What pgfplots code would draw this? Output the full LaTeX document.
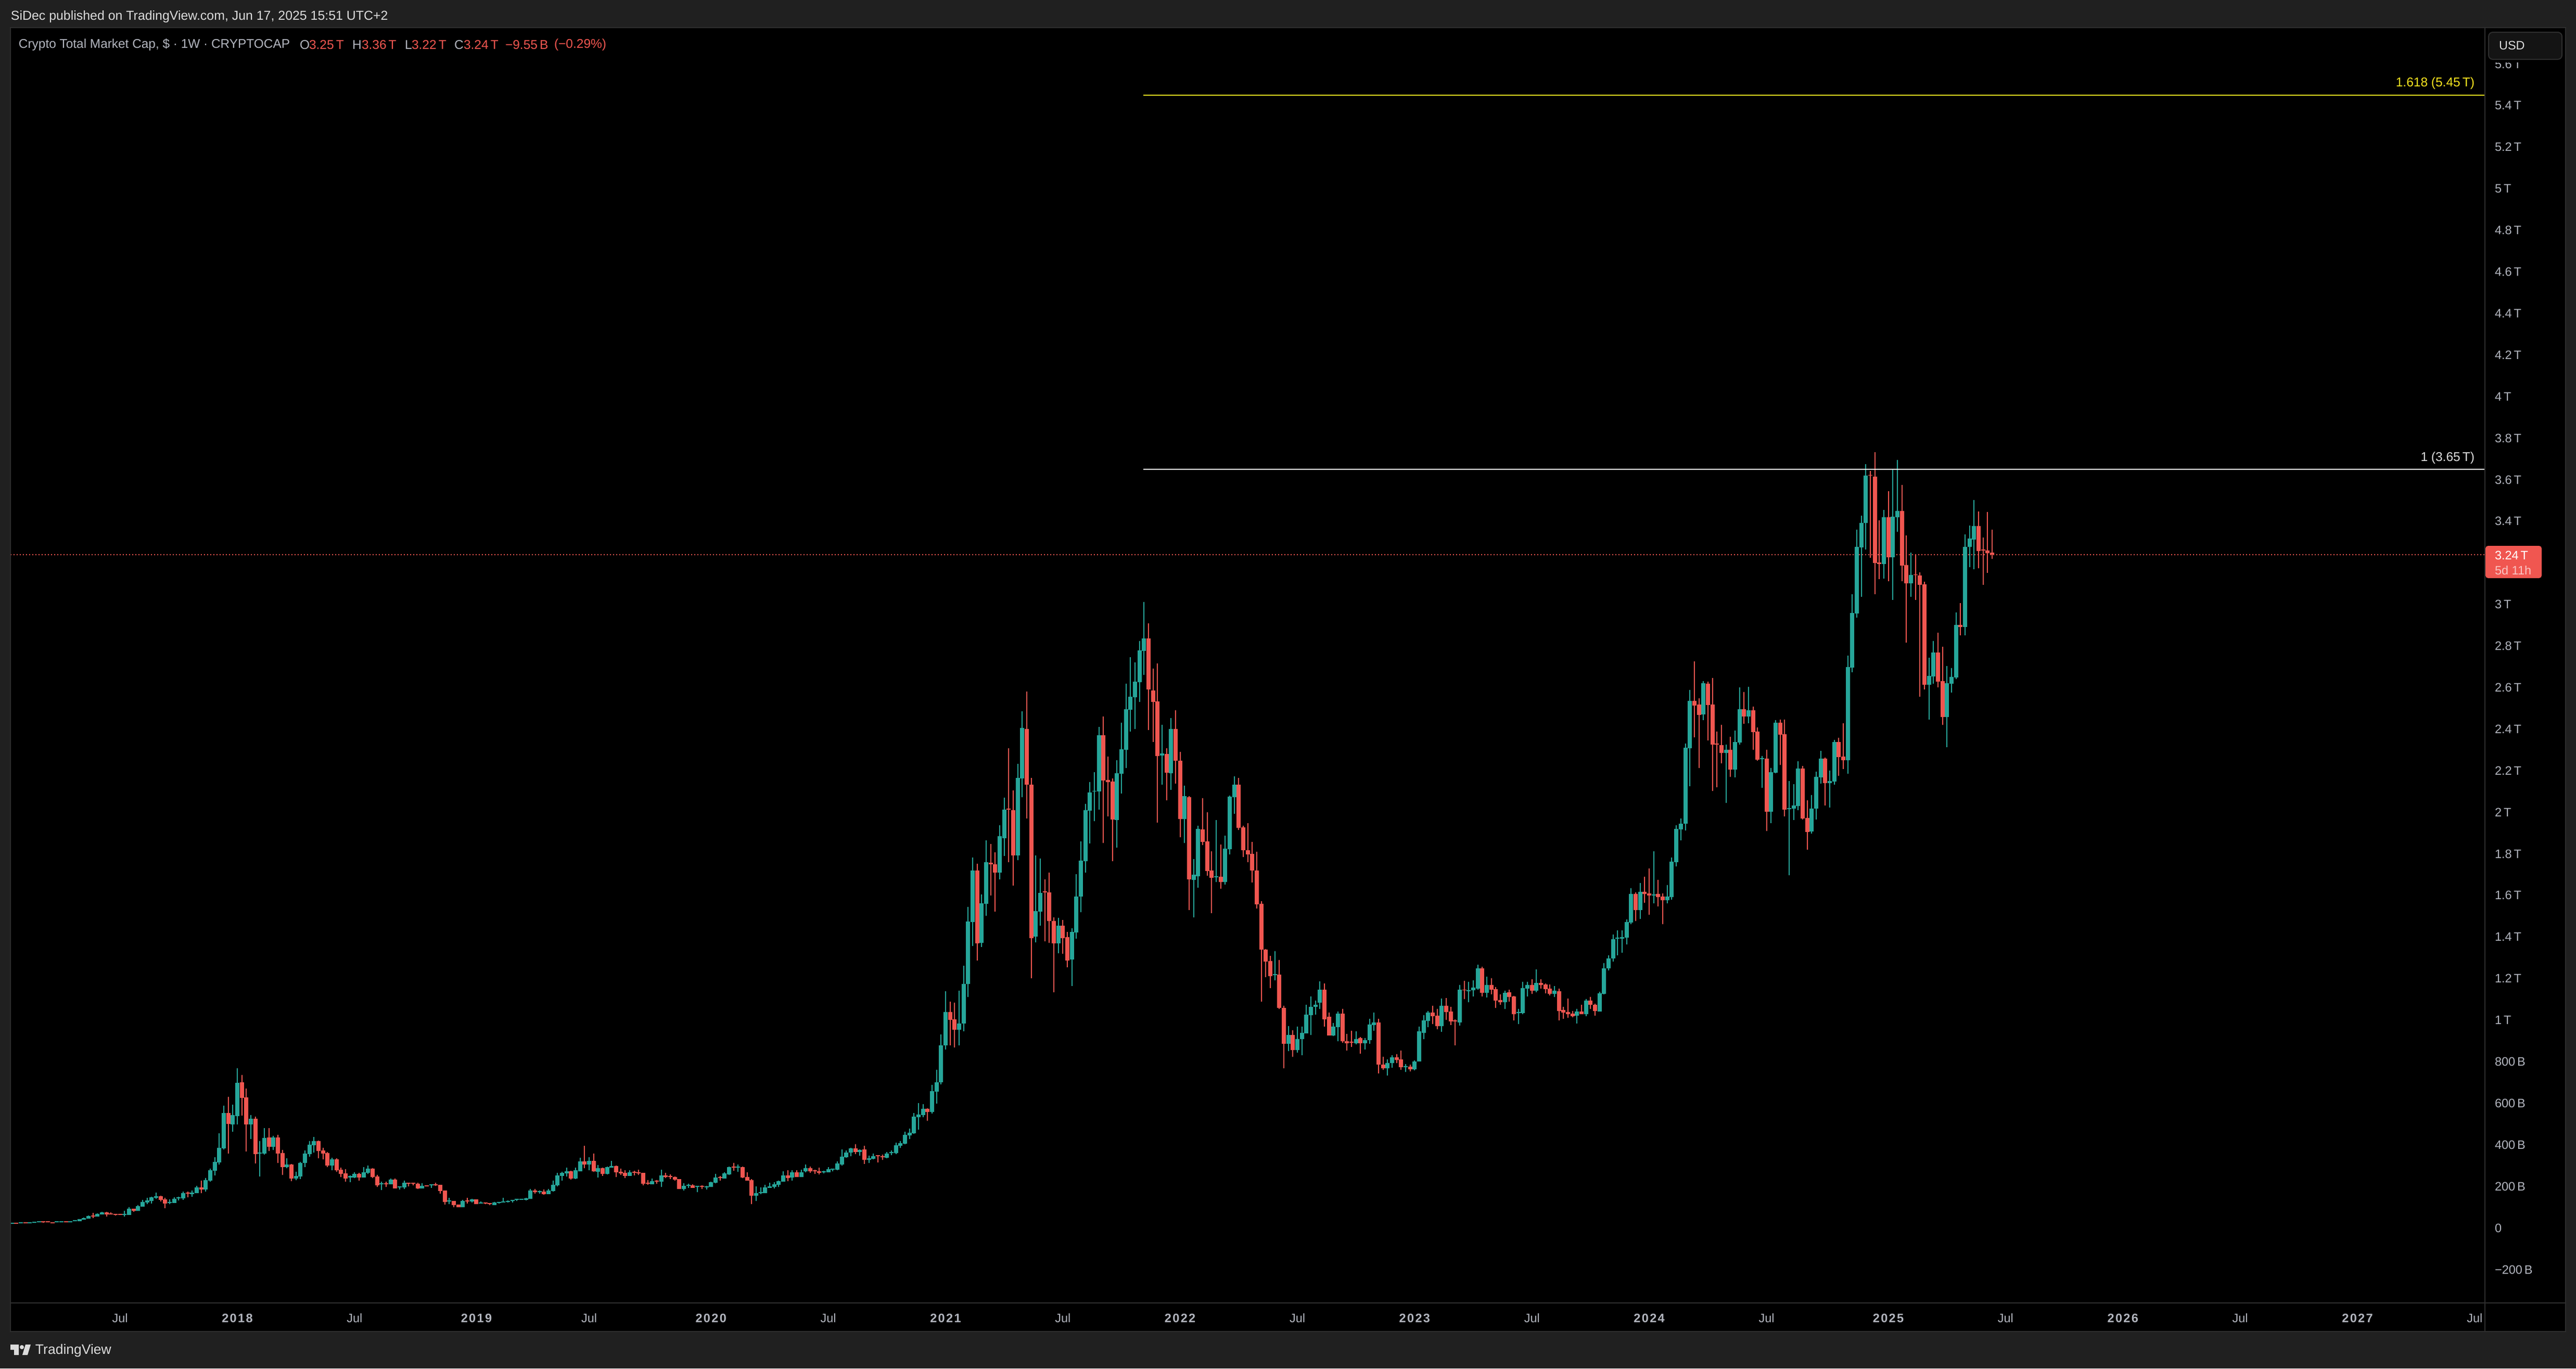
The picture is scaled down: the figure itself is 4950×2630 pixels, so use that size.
\documentclass[border=0pt]{standalone}
\usepackage{pgfplots}
\usepackage{pgfplotstable}
\usepackage{fontspec}
\setmainfont{Liberation Sans}
\newfontface\yrfont[LetterSpace=10]{Liberation Sans Bold}
\DeclareRobustCommand\yr[1]{{\yrfont #1}}
\pgfplotsset{compat=1.18}
\definecolor{bg}{HTML}{202020}
\definecolor{frame}{HTML}{2E2E2E}
\definecolor{up}{HTML}{26A69A}
\definecolor{down}{HTML}{F05650}
\definecolor{txt}{HTML}{B2B5BE}
\definecolor{lite}{HTML}{DBDBDB}
\definecolor{fib}{HTML}{F5E21F}
% week index, open, high, low, close (billions of USD)
\pgfplotstableread{
i o h l c
0 20 25 20 25
2 23 27 23 27
4 23 27 23 27
5 25 30 25 30
6 28 33 28 33
10 28 33 28 33
11 28 33 28 33
13 28 33 28 33
14 33 38 33 38
15 33 43 33 43
16 40 50 40 48
17 45 60 45 58
19 56 70 56 68
20 65 78 65 76
25 63 83 56 68
26 63 100 63 93
28 83 110 83 105
29 103 135 103 125
30 123 145 115 133
31 130 150 118 148
32 145 170 140 153
35 120 138 115 125
36 120 148 120 140
37 143 150 133 148
38 143 175 135 168
40 163 180 150 170
41 168 203 168 195
43 185 240 175 230
44 228 285 223 278
45 275 340 253 318
46 315 456 305 385
47 383 588 378 553
49 498 593 463 543
50 538 768 498 698
53 498 543 428 526
55 358 418 248 363
56 358 481 353 433
58 391 443 375 436
61 293 335 288 305
63 238 270 230 250
64 248 318 235 313
65 313 373 293 358
66 355 418 343 401
67 398 438 363 418
71 300 338 278 330
75 243 253 220 250
76 243 268 240 260
78 243 293 243 268
79 265 300 260 285
82 210 223 183 215
84 210 238 210 233
86 195 200 185 200
87 195 228 188 218
91 190 215 190 203
93 205 210 193 210
97 128 145 115 133
100 100 135 100 130
102 128 140 123 138
104 118 128 118 123
107 110 125 110 123
108 120 125 118 125
109 123 145 123 128
110 125 133 123 130
111 130 135 123 135
112 135 140 130 140
113 135 140 135 140
114 135 145 133 143
115 140 188 140 180
117 173 180 165 178
119 163 188 163 180
120 178 228 175 208
121 205 265 200 253
122 250 270 228 265
123 263 290 248 273
125 238 290 235 278
126 273 338 273 320
128 305 340 278 323
130 270 303 243 288
132 260 295 258 293
133 290 323 290 298
137 250 278 250 268
142 210 238 210 225
144 223 280 198 253
149 188 215 180 203
150 203 213 193 208
152 198 203 173 203
154 195 203 185 200
155 198 223 198 220
156 218 260 215 243
158 238 268 238 263
159 258 295 255 293
161 290 305 270 295
165 155 200 130 168
166 168 195 163 173
167 168 208 168 195
168 193 218 193 200
169 198 220 190 210
170 208 228 198 225
171 223 273 223 253
173 243 278 228 268
175 245 280 245 268
176 273 305 268 288
180 268 275 263 273
181 268 293 268 283
182 280 285 273 285
183 280 320 278 310
184 305 378 300 343
185 340 373 338 363
186 363 385 345 383
188 365 378 348 375
190 328 348 313 335
191 333 358 330 345
194 338 365 335 358
195 360 373 350 365
196 360 411 355 398
197 396 418 385 408
198 406 463 403 448
199 446 478 428 458
200 456 553 453 536
201 533 601 473 546
202 543 596 533 573
204 558 688 551 658
205 656 761 598 701
206 701 931 690 880
207 880 1139 860 1039
210 955 1141 880 983
211 983 1262 947 1174
212 1174 1545 1112 1474
213 1471 1782 1358 1721
215 1372 1606 1353 1562
216 1559 1865 1503 1760
219 1710 1937 1678 1885
220 1876 2070 1789 2014
223 1792 2233 1770 2165
224 2162 2486 2072 2405
227 1401 1792 1374 1524
228 1522 1777 1455 1612
232 1369 1491 1323 1454
235 1292 1441 1165 1424
236 1421 1703 1391 1596
237 1595 1859 1519 1767
238 1764 2040 1710 2010
239 2007 2145 1851 2095
240 2101 2193 1957 2103
241 2101 2412 2014 2372
245 1963 2250 1830 2188
246 2185 2430 2091 2303
247 2300 2618 2213 2496
248 2493 2746 2389 2556
249 2553 2721 2401 2628
250 2625 2823 2530 2779
251 2776 3012 2661 2836
255 2274 2422 2132 2283
257 2188 2453 2109 2401
260 1967 2128 1852 2078
262 1674 1774 1494 1700
263 1693 1935 1637 1920
267 1688 1963 1664 1693
269 1664 1887 1652 1825
270 1822 2081 1797 2075
271 2072 2172 1994 2132
280 1217 1332 1191 1221
283 886 972 851 929
285 856 969 844 910
286 909 969 831 939
287 936 1074 936 1027
288 1024 1114 930 1065
289 1064 1094 1027 1075
290 1084 1186 1055 1146
293 926 986 923 968
294 966 1041 900 1031
298 889 946 883 910
300 889 913 858 903
301 903 1006 886 978
302 976 1037 949 988
305 768 811 733 795
306 794 831 771 821
309 774 788 751 778
311 764 807 759 802
312 802 969 802 946
313 940 1024 910 998
314 996 1045 966 1037
317 971 1104 943 1068
321 988 1170 973 1146
323 1140 1183 1086 1144
324 1143 1192 1114 1156
325 1152 1267 1146 1249
327 1131 1209 1108 1169
331 1086 1142 1055 1131
334 1034 1055 981 1038
335 1034 1183 1028 1153
336 1152 1183 1114 1169
338 1142 1244 1133 1179
342 1126 1163 1111 1142
347 1021 1054 984 1041
349 1028 1101 1018 1094
352 1041 1136 1041 1129
353 1126 1274 1123 1250
354 1250 1311 1239 1298
355 1297 1413 1281 1389
356 1392 1432 1311 1397
357 1392 1432 1324 1399
358 1397 1485 1365 1472
359 1469 1634 1462 1607
361 1529 1660 1487 1618
364 1601 1812 1561 1606
367 1577 1649 1561 1595
368 1592 1782 1579 1762
369 1759 1937 1740 1920
370 1918 1970 1865 1945
371 1945 2330 1913 2310
372 2308 2588 2125 2536
375 2471 2630 2443 2621
380 2286 2325 2045 2301
382 2205 2393 2168 2338
383 2335 2601 2325 2496
385 2460 2603 2429 2491
388 2256 2270 2118 2260
390 2004 2213 1947 2193
391 2190 2443 2187 2432
394 2016 2151 1697 2020
395 2019 2135 1963 2033
396 2030 2246 2010 2210
399 1908 2083 1898 2017
400 2017 2195 1966 2170
401 2168 2296 2138 2257
403 2141 2200 2024 2151
404 2148 2348 2132 2338
407 2250 2753 2185 2698
408 2695 3049 2674 2958
409 2957 3359 2937 3277
410 3274 3427 3036 3391
411 3391 3675 3264 3619
415 3194 3454 3124 3420
417 3227 3652 3022 3422
418 3420 3694 3349 3450
421 3102 3249 3036 3141
425 2614 2743 2445 2655
426 2654 2823 2618 2769
429 2458 2704 2313 2621
430 2618 2694 2576 2651
431 2648 2961 2641 2901
433 2892 3338 2851 3277
434 3277 3379 3180 3316
435 3312 3501 3170 3376
}\upcandles
\pgfplotstableread{
i o h l c
1 25 25 20 20
3 27 27 23 23
7 33 33 25 28
8 33 33 28 28
9 28 28 23 23
12 33 33 28 28
18 60 73 48 56
21 75 78 56 65
22 70 75 65 65
23 68 68 60 63
24 68 68 63 63
27 93 93 78 83
33 153 155 128 135
34 138 145 95 118
39 170 175 148 165
42 195 228 168 185
48 553 631 358 501
51 701 736 541 626
52 628 671 368 498
54 526 536 310 355
57 436 481 370 391
59 436 448 313 358
60 360 375 255 293
62 305 308 225 238
68 418 421 335 370
69 373 385 330 358
70 360 365 293 300
72 330 335 270 278
73 280 290 245 260
74 263 283 223 238
77 260 265 228 243
80 285 288 240 245
81 248 255 198 205
83 215 223 198 210
85 233 238 190 190
88 218 218 200 213
89 218 218 205 213
90 213 218 188 190
92 205 205 200 200
94 210 218 203 205
95 208 208 165 178
96 180 180 113 125
98 130 130 100 110
99 112 112 100 100
101 133 145 118 128
103 138 138 115 115
105 123 123 115 118
106 120 120 110 115
116 180 188 165 173
118 175 185 160 163
124 273 275 233 238
127 320 396 288 305
129 323 358 270 273
131 288 290 250 260
134 298 300 245 268
135 270 285 255 263
136 265 278 240 250
138 270 275 253 265
139 268 280 255 263
140 265 265 205 213
141 218 230 208 213
143 228 230 213 223
145 253 265 240 245
146 250 258 235 245
147 245 248 228 233
148 235 235 188 188
151 205 210 193 193
153 203 205 188 198
157 245 250 228 240
160 295 313 275 290
162 293 295 240 243
163 245 268 228 228
164 230 235 115 155
172 253 278 225 240
174 268 278 245 245
177 288 295 265 273
178 278 280 260 273
179 273 290 258 265
187 383 403 355 365
189 378 396 308 328
192 350 350 315 345
193 345 353 328 340
203 573 576 516 558
208 1039 1089 880 1001
209 1003 1085 870 955
214 1721 1753 1286 1369
217 1757 1848 1599 1751
218 1751 1808 1523 1710
221 2017 2307 1760 2013
222 2010 2105 1648 1792
225 2401 2580 1971 2132
226 2132 2165 1203 1394
229 1619 1677 1379 1615
230 1615 1711 1372 1477
231 1478 1494 1135 1369
233 1454 1483 1319 1394
234 1399 1424 1254 1286
242 2372 2460 1852 2152
243 2155 2267 1980 2145
244 2148 2162 1766 1964
252 2836 2908 2395 2591
253 2586 2691 2338 2530
254 2533 2716 1950 2270
256 2280 2307 2058 2190
258 2402 2490 2138 2247
259 2247 2290 1879 1967
261 2072 2078 1529 1677
264 1917 2068 1842 1858
265 1859 2000 1694 1717
266 1720 1812 1514 1684
268 1690 1845 1632 1664
272 2132 2165 1915 1925
273 1927 1935 1785 1818
274 1818 1947 1760 1797
275 1799 1858 1662 1720
276 1721 1809 1537 1556
277 1559 1573 1089 1339
278 1339 1342 1208 1282
279 1284 1310 1154 1211
281 1219 1289 1053 1058
282 1058 1070 768 886
284 929 952 823 856
291 1146 1176 968 1004
292 1017 1037 926 926
295 1031 1055 892 899
296 900 933 853 889
297 896 949 871 892
299 913 920 838 889
303 988 1006 744 785
304 785 825 762 768
307 821 836 795 808
308 811 853 762 774
310 775 785 754 764
315 1037 1068 981 1018
316 1021 1055 956 971
318 1068 1106 1001 1038
319 1041 1064 976 994
320 998 1004 879 994
322 1147 1189 1101 1143
326 1249 1256 1114 1131
328 1169 1202 1123 1146
329 1149 1159 1058 1094
330 1096 1124 1075 1086
332 1133 1146 1088 1111
333 1114 1116 998 1028
337 1169 1196 1126 1142
339 1179 1196 1152 1169
340 1172 1176 1129 1149
341 1152 1172 1119 1126
343 1139 1152 998 1044
344 1048 1064 1006 1037
345 1038 1104 1011 1028
346 1031 1044 1014 1018
348 1041 1073 1028 1028
350 1094 1111 1055 1074
351 1075 1078 1021 1044
360 1607 1615 1477 1529
362 1618 1689 1564 1607
363 1610 1730 1506 1601
365 1607 1675 1547 1592
366 1595 1610 1462 1577
373 2536 2726 2361 2513
374 2518 2549 2213 2468
376 2619 2628 2346 2515
377 2518 2646 2103 2325
378 2330 2388 2121 2325
379 2323 2421 2236 2286
381 2301 2363 2171 2205
384 2496 2578 2426 2460
386 2491 2508 2301 2385
387 2388 2408 2247 2252
389 2257 2301 1910 2002
392 2431 2445 2228 2374
393 2375 2445 1980 2014
397 2210 2223 1966 1970
398 1973 2057 1820 1905
402 2257 2263 2033 2141
405 2338 2358 2175 2266
406 2267 2428 2208 2250
412 3622 3642 3224 3619
413 3616 3733 3049 3200
414 3201 3404 3122 3195
416 3420 3545 3112 3228
419 3450 3575 3112 3187
420 3190 3332 2816 3102
422 3144 3241 3022 3141
423 3139 3154 2556 3093
424 3096 3109 2591 2614
427 2769 2864 2601 2628
428 2631 2796 2421 2458
432 2901 3006 2851 2892
436 3376 3447 3174 3257
437 3264 3322 3093 3260
438 3259 3444 3151 3247
439 3250 3360 3220 3240
}\downcandles
\newcommand\fs[1]{\fontsize{#1}{#1}\selectfont}
\begin{document}
\begin{tikzpicture}[x=0.2pt,y=-0.2pt]
\useasboundingbox (0,0) rectangle (4950,2630);
\fill[bg] (0,0) rectangle (4950,2630);
\fill[black] (20,53) rectangle (4930,2559);
\begin{axis}[at={(4pt,-500.8pt)},anchor=south west,scale only axis,
  width=951pt,height=490.2pt,
  xmin=-0.3,xmax=548.27,ymin=-360.4,ymax=5775,
  axis line style={draw=none},tick style={draw=none},major tick length=0pt,
  xtick={24,50,76,103,128,155,181,207,233,259,285,311,337,363,389,416,442,468,494,520,546},
  xticklabels={Jul,\yr{2018},Jul,\yr{2019},Jul,\yr{2020},Jul,\yr{2021},Jul,\yr{2022},Jul,\yr{2023},Jul,\yr{2024},Jul,\yr{2025},Jul,\yr{2026},Jul,\yr{2027},Jul},
  xticklabel style={font=\fs{4.7pt},text=txt,anchor=center,yshift=-5.8pt,inner sep=0pt},
  ytick={-200,0,200,400,600,800,1000,1200,1400,1600,1800,2000,2200,2400,2600,2800,3000,3200,3400,3600,3800,4000,4200,4400,4600,4800,5000,5200,5400,5600},
  yticklabels={−200\,B,0,200\,B,400\,B,600\,B,800\,B,1\,T,1.2\,T,1.4\,T,1.6\,T,1.8\,T,2\,T,2.2\,T,2.4\,T,2.6\,T,2.8\,T,3\,T,,3.4\,T,3.6\,T,3.8\,T,4\,T,4.2\,T,4.4\,T,4.6\,T,4.8\,T,5\,T,5.2\,T,5.4\,T,5.6\,T},
  yticklabel pos=right,
  yticklabel style={font=\fs{4.7pt},text=txt,anchor=west,xshift=3.6pt,inner sep=0pt},
]
\addplot[color=down,line width=0.4pt,dash pattern=on 0.4pt off 0.8pt] coordinates {(-0.3,3240)(548.27,3240)};
% wicks
\addplot[draw=none,mark=none,error bars/.cd,y dir=both,y explicit,error mark=none,error bar style={color=up,line width=0.4pt}]
  table[x=i,y=o,y error plus expr=\thisrow{h}-\thisrow{o},y error minus expr=\thisrow{o}-\thisrow{l}] {\upcandles};
\addplot[draw=none,mark=none,error bars/.cd,y dir=both,y explicit,error mark=none,error bar style={color=down,line width=0.4pt}]
  table[x=i,y=o,y error plus expr=\thisrow{h}-\thisrow{o},y error minus expr=\thisrow{o}-\thisrow{l}] {\downcandles};
% bodies
\addplot[draw=none,mark=none,error bars/.cd,y dir=plus,y explicit,error mark=none,error bar style={color=up,line width=1.6pt}]
  table[x=i,y=o,y error plus expr=\thisrow{c}-\thisrow{o},y error minus expr=0] {\upcandles};
\addplot[draw=none,mark=none,error bars/.cd,y dir=minus,y explicit,error mark=none,error bar style={color=down,line width=1.6pt}]
  table[x=i,y=o,y error plus expr=0,y error minus expr=\thisrow{o}-\thisrow{c}] {\downcandles};
% levels
\addplot[color=fib,line width=0.5pt] coordinates {(250.9,5450)(548.27,5450)};
\addplot[color=white,line width=0.5pt] coordinates {(250.9,3650)(548.27,3650)};
\end{axis}
% strip that cuts the top scale label under the currency box
\fill[black] (4780,54) rectangle (4928,120);
% frame
\draw[frame,line width=0.5pt] (20,53) rectangle (4930,2559);
\draw[frame,line width=0.5pt] (4775,53) -- (4775,2559);
\draw[frame,line width=0.5pt] (20,2504) -- (4930,2504);
% level labels
\node[anchor=east,inner sep=0pt,text=fib,font=\fs{4.9pt}] at (4756,160) {1.618 (5.45\,T)};
\node[anchor=east,inner sep=0pt,text=lite,font=\fs{4.9pt}] at (4756,880) {1 (3.65\,T)};
% price label
\fill[down,rounded corners=1pt] (4776,1049) rectangle (4884,1111);
\node[anchor=west,inner sep=0pt,text=white,font=\fs{4.7pt}] at (4793,1067) {3.24\,T};
\node[anchor=west,inner sep=0pt,text=white!65!down,font=\fs{4.7pt}] at (4793,1096) {5d 11h};
% currency box
\draw[frame,fill=black!92!white,rounded corners=1.6pt,line width=0.4pt] (4782,62) rectangle (4923,114);
\node[anchor=west,inner sep=0pt,text=lite,font=\fs{4.7pt}] at (4801,87) {USD};
% header
\node[anchor=west,inner sep=0pt,text=lite,font=\fs{4.98pt}] at (20,32) {SiDec published on TradingView.com, Jun 17, 2025 15:51 UTC+2};
\node[anchor=west,inner sep=0pt,text=txt,font=\fs{4.88pt}] at (35,86) {Crypto Total Market Cap, \$ · 1W · CRYPTOCAP};
\node[anchor=west,inner sep=0pt,text=txt,font=\fs{4.9pt}] at (575,86) {O};
\node[anchor=west,inner sep=0pt,text=down,font=\fs{4.9pt}] at (593,86) {3.25\,T};
\node[anchor=west,inner sep=0pt,text=txt,font=\fs{4.9pt}] at (676,86) {H};
\node[anchor=west,inner sep=0pt,text=down,font=\fs{4.9pt}] at (694,86) {3.36\,T};
\node[anchor=west,inner sep=0pt,text=txt,font=\fs{4.9pt}] at (777,86) {L};
\node[anchor=west,inner sep=0pt,text=down,font=\fs{4.9pt}] at (790,86) {3.22\,T};
\node[anchor=west,inner sep=0pt,text=txt,font=\fs{4.9pt}] at (872,86) {C};
\node[anchor=west,inner sep=0pt,text=down,font=\fs{4.9pt}] at (890,86) {3.24\,T};
\node[anchor=west,inner sep=0pt,text=down,font=\fs{4.9pt}] at (970,86) {−9.55\,B};
\node[anchor=west,inner sep=0pt,text=down,font=\fs{4.9pt}] at (1064,86) {(−0.29\%)};
% footer
\fill[lite] (20,2584) -- (36,2584) -- (36,2604) -- (27,2604) -- (27,2594) -- (20,2594) -- cycle;
\fill[lite] (42,2589) circle[radius=4];
\fill[lite] (49,2584) -- (59,2584) -- (53,2604) -- (43,2604) -- cycle;
\node[anchor=west,inner sep=0pt,text=lite,font=\fs{5.3pt}] at (67,2596) {TradingView};
\end{tikzpicture}
\end{document}
